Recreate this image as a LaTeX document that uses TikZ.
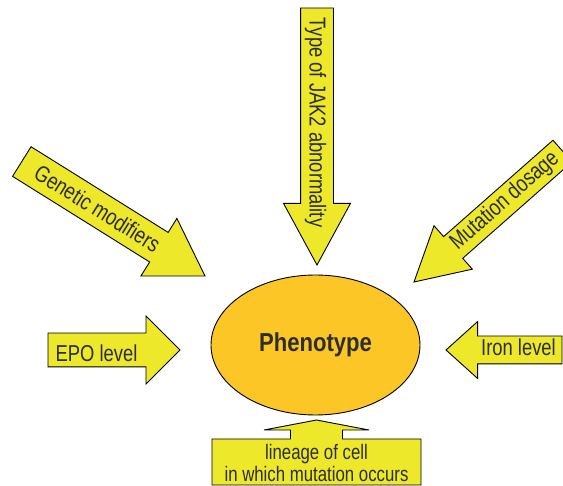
\documentclass[tikz,border=0pt]{standalone}
\usepackage{fontspec}
\setmainfont{Liberation Sans}[FakeStretch=0.8]
\newfontfamily\phenofont{Liberation Sans}[FakeStretch=0.85]
\usetikzlibrary{shapes.geometric,shapes.arrows,positioning}
\definecolor{arrowyellow}{RGB}{237,232,42}
\definecolor{phenoorange}{RGB}{252,198,38}
\definecolor{labelgray}{RGB}{45,45,45}

\begin{document}
\begin{tikzpicture}
      [x=1pt, y=-1pt,
      factor arrow/.style={single arrow, draw=black, fill=arrowyellow, line width=0.9pt,
        minimum width=0pt, inner xsep=0pt, outer sep=0pt, anchor=tip},
      factor label/.style={text=labelgray, inner sep=0pt, font=\fontsize{23}{27}\selectfont},
      pheno style/.style={ellipse, draw=black, fill=phenoorange, line width=0.9pt,
        minimum width=209pt, minimum height=140pt, text=labelgray,
        font=\phenofont\bfseries\fontsize{26}{30}\selectfont},
      lineage style/.style={draw=black, fill=arrowyellow, line width=0.9pt}
      ]
      \useasboundingbox (0,0) rectangle (563,486);
      \clip (0,0) rectangle (563,486);

      \node[pheno style] (phenotype) at (315.5,345) {Phenotype};

      % arrows pointing at the phenotype
      \node[factor arrow, rotate=-90, inner ysep=16pt, single arrow head extend=17pt,
        single arrow tip angle=57, minimum height=257pt] (jak arrow) at (317,265) {};
      \node[factor arrow, rotate=-32, inner ysep=17pt, single arrow head extend=16.5pt,
        single arrow tip angle=64, minimum height=216pt] (genetic arrow) at (205,276) {};
      \node[factor arrow, rotate=221.4, inner ysep=14pt, single arrow head extend=14.5pt,
        single arrow tip angle=58, minimum height=198pt] (dosage arrow) at (414,282) {};
      \node[factor arrow, inner ysep=16.5pt, single arrow head extend=17pt,
        single arrow tip angle=90, minimum height=132pt] (epo arrow) at (180,350) {};
      \node[factor arrow, rotate=180, inner ysep=13.5pt, single arrow head extend=14.5pt,
        single arrow tip angle=84, minimum height=116pt] (iron arrow) at (446,350) {};

      \node[factor label, rotate=-90] (jak) at (315.5,122.5) {Type of JAK2 abnormality};
      \node[factor label, rotate=-32] (genetic) at (97.5,208.5) {Genetic modifiers};
      \node[factor label, rotate=41.4] (dosage) at (505,201) {Mutation dosage};
      \node[factor label] (epo) at (96.5,353) {EPO level};
      \node[factor label] (iron) at (518.5,347.5) {Iron level};

      % box with a short arrow below the ellipse
      \draw[lineage style] (212,485) -- (212,439) -- (290.5,439) -- (290.5,430) -- (264,430)
        -- (316.5,420) -- (369,430) -- (342.5,430) -- (342.5,439) -- (421,439) -- (421,485) -- cycle;
      \node[text=labelgray, align=center, inner sep=0pt,
        font=\fontsize{21}{22}\selectfont] (lineage) at (316.5,463)
        {lineage of cell\\in which mutation occurs};
\end{tikzpicture}
\end{document}
